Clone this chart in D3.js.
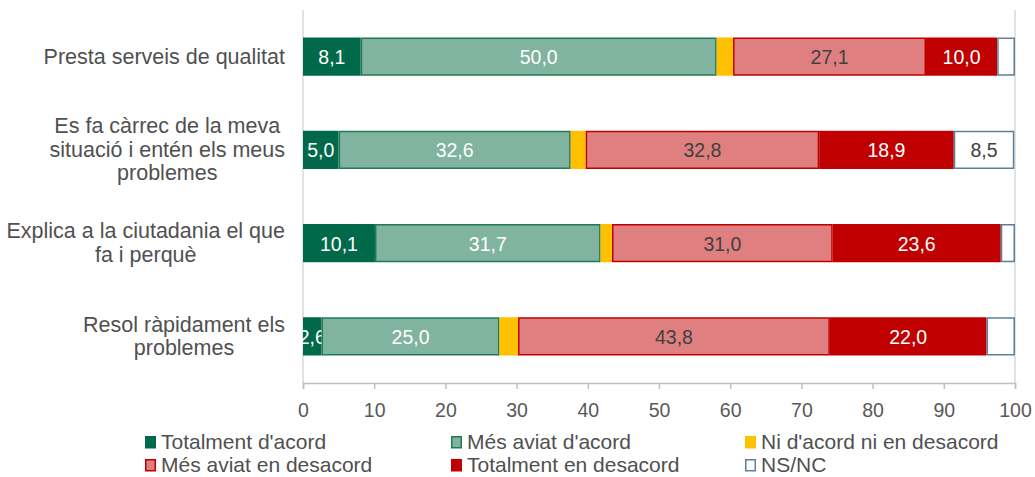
<!DOCTYPE html>
<html><head><meta charset="utf-8">
<script src="https://cdn.jsdelivr.net/npm/d3@7"></script>
<style>body{margin:0;background:#fff;} text{font-family:"Liberation Sans",Arial,sans-serif;}</style>
</head><body>
<svg id="c" width="1035" height="477"></svg>
<script>
const categories = [
  ["Presta serveis de qualitat"],
  ["Es fa càrrec de la meva","situació i entén els meus","problemes"],
  ["Explica a la ciutadania el que","fa i perquè"],
  ["Resol ràpidament els","problemes"]
];
const seriesNames = ["Totalment d'acord","Més aviat d'acord","Ni d'acord ni en desacord","Més aviat en desacord","Totalment en desacord","NS/NC"];
const totalmentAcord = [8.1, 5.0, 10.1, 2.6];
const mesAviatAcord = [50.0, 32.6, 31.7, 25.0];
const niNi = [2.3, 2.1, 1.6, 2.6];
const mesAviatDesacord = [27.1, 32.8, 31.0, 43.8];
const totalmentDesacord = [10.0, 18.9, 23.6, 22.0];
const nsnc = [2.5, 8.5, 2.0, 4.0];
const labelMin = [0, 0, 100, 0, 0, 5];
const xTicks = [0,10,20,30,40,50,60,70,80,90,100];

(function(){
const fills = ["#00694A","#80B3A0","#FFC000","#E07F7F","#C00000","#FFFFFF"];
const strokes = ["#00694A","#1F7A55","#FFC000","#C00000","#C00000","#5E7F9C"];
const labelColors = ["#fff","#fff","#fff","#404040","#fff","#404040"];
const seriesVals = [totalmentAcord, mesAviatAcord, niNi, mesAviatDesacord, totalmentDesacord, nsnc];

const svg = d3.select("#c");
const mLeft = 303, mRight = 1015, mTop = 10, mBottom = 383;
const x = d3.scaleLinear().domain([0,100]).range([mLeft,mRight]);
const y = d3.scaleBand().domain(d3.range(categories.length)).range([mTop,mBottom]).paddingInner(0.59).paddingOuter(0.295);

svg.selectAll(".vl").data([0,100]).enter().append("line")
  .attr("x1",d=>x(d)).attr("x2",d=>x(d)).attr("y1",mTop).attr("y2",mBottom)
  .attr("stroke","#D9D9D9").attr("stroke-width",1.5);

const ax = svg.append("g").attr("transform",`translate(0,${mBottom})`)
  .call(d3.axisBottom(x).tickValues(xTicks).tickSize(6).tickPadding(14).tickFormat(d3.format("d")));
ax.select(".domain").attr("stroke","#BFBFBF").attr("stroke-width",1.5);
ax.selectAll(".tick line").attr("stroke","#BFBFBF").attr("stroke-width",1.5);
ax.selectAll(".tick text").attr("fill","#595959").attr("font-size",19.5).attr("font-family","Liberation Sans, Arial, sans-serif");

const fmt = v => d3.format(".1f")(v).replace(".",",");
categories.forEach((cat,i)=>{
  let cum = 0;
  seriesVals.forEach((arr,s)=>{
    const v = arr[i];
    const x0 = x(cum), x1 = x(cum+v);
    svg.append("rect").attr("x",x0+0.75).attr("y",y(i)+0.75)
      .attr("width",Math.max(0,x1-x0-1.5)).attr("height",y.bandwidth()-1.5)
      .attr("fill",fills[s]).attr("stroke",strokes[s]).attr("stroke-width",1.5);
    if(v >= labelMin[s]){
      svg.append("text").attr("x",(x0+x1)/2).attr("y",y(i)+y.bandwidth()/2+7.5)
        .attr("text-anchor","middle").attr("font-size",19.5).attr("fill",labelColors[s]).text(fmt(v));
    }
    cum += v;
  });
  const g = svg.append("g");
  const lh = 23.5;
  const n = cat.length;
  const cy = y(i)+y.bandwidth()/2;
  const texts = cat.map((line,k)=> g.append("text").attr("y",cy + (k-(n-1)/2)*lh + 7)
    .attr("text-anchor","middle").attr("font-size",21.5).attr("fill","#505050").text(line));
  const maxW = d3.max(texts, t=>t.node().getComputedTextLength());
  texts.forEach(t=>t.attr("x",285-maxW/2));
});

const legCols = [145,451,745];
const legRows = [442,465];
seriesNames.forEach((name,s)=>{
  const cx = legCols[s%3], cy = legRows[Math.floor(s/3)];
  svg.append("rect").attr("x",cx+0.75).attr("y",cy-6+0.75).attr("width",9.5).attr("height",11)
    .attr("fill",fills[s]).attr("stroke",strokes[s]).attr("stroke-width",1.5);
  svg.append("text").attr("x",cx+16).attr("y",cy+6.5).attr("font-size",21).attr("fill","#505050").text(name);
});
})();
</script>
</body></html>
